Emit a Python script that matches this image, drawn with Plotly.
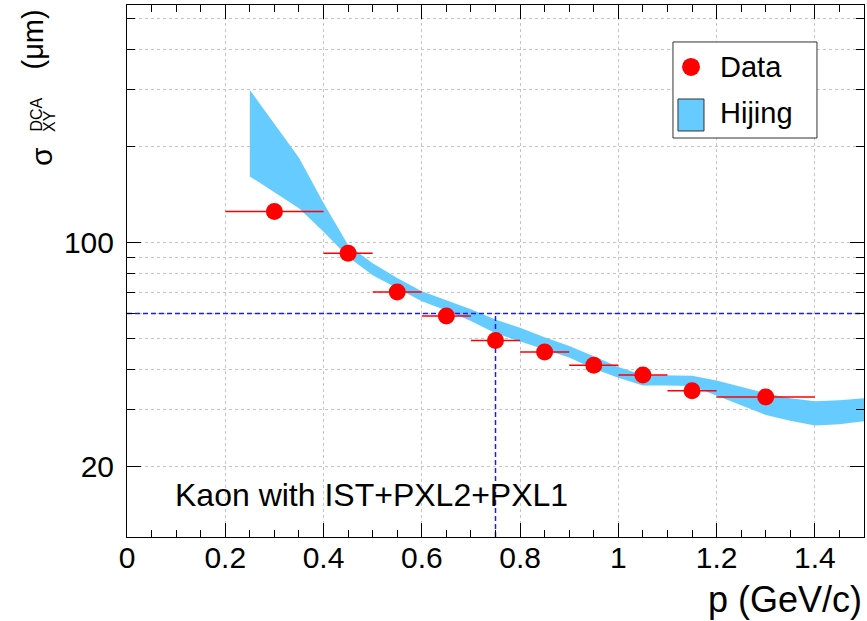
import math

import plotly.graph_objects as go

# Data points (momentum bin centre, half width, DCA resolution in um)
p_data = [0.3, 0.45, 0.55, 0.65, 0.75, 0.85, 0.95, 1.05, 1.15, 1.3]
p_halfwidth = [0.1, 0.05, 0.05, 0.05, 0.05, 0.05, 0.05, 0.05, 0.05, 0.1]
sigma_data = [125.0, 92.6, 70.0, 58.9, 49.4, 45.5, 41.3, 38.5, 34.4, 32.9]

# Hijing band (lower / upper edge)
p_band = [0.25, 0.30, 0.35, 0.40, 0.45, 0.50, 0.55, 0.60, 0.65, 0.70, 0.75,
          0.80, 0.85, 0.90, 0.95, 1.00, 1.05, 1.10, 1.15, 1.20, 1.25, 1.30,
          1.35, 1.40, 1.45, 1.50]
band_low = [161, 144, 128, 108, 90.1, 79.0, 71.8, 65.5, 61.3, 56.8, 52.0,
            49.2, 46.3, 43.7, 40.3, 37.8, 35.7, 35.7, 35.6, 33.3, 31.0, 28.9,
            27.7, 26.8, 27.0, 27.6]
band_up = [300, 235, 184, 133, 98.2, 86.1, 77.5, 70.4, 66.1, 61.8, 57.5,
           54.1, 50.6, 47.5, 44.1, 40.8, 38.5, 38.4, 38.3, 37.0, 35.3, 33.8,
           32.6, 31.9, 32.1, 32.6]

# reference lines
ref_p = 0.75
ref_sigma = 60

# axes
x_range = [0, 1.5]
x_ticks = [0, 0.2, 0.4, 0.6, 0.8, 1.0, 1.2, 1.4]
x_ticktext = ["0", "0.2", "0.4", "0.6", "0.8", "1", "1.2", "1.4"]
y_min, y_max = 12.0, 553.0
y_major = [20, 100]
y_major_text = ["20", "100"]
y_minor = [30, 40, 50, 60, 70, 80, 90, 200, 300, 400, 500]

legend_labels = ["Data", "Hijing"]

FONT = "Liberation Sans"
RED = "#ff0000"
BAND = "#66ccff"
GRID = "#c4c4c4"
BLUE = "#1a1aff"

fig = go.Figure()

# Hijing band as a closed polygon
fig.add_trace(
    go.Scatter(
        x=p_band + p_band[::-1],
        y=band_up + band_low[::-1],
        fill="toself",
        fillcolor=BAND,
        mode="lines",
        line=dict(width=0, color=BAND),
        name=legend_labels[1],
        showlegend=False,
        hoverinfo="skip",
    )
)

# dashed reference lines
fig.add_trace(
    go.Scatter(
        x=x_range,
        y=[ref_sigma, ref_sigma],
        mode="lines",
        line=dict(color=BLUE, width=1.5, dash="5px,3px"),
        showlegend=False,
    )
)
fig.add_trace(
    go.Scatter(
        x=[ref_p, ref_p],
        y=[y_min, ref_sigma],
        mode="lines",
        line=dict(color=BLUE, width=1.5, dash="5px,3px"),
        showlegend=False,
    )
)

# Data points
fig.add_trace(
    go.Scatter(
        x=p_data,
        y=sigma_data,
        mode="markers",
        marker=dict(color=RED, size=17, symbol="circle"),
        error_x=dict(type="data", array=p_halfwidth, color=RED, thickness=1.5, width=0),
        name=legend_labels[0],
        showlegend=False,
    )
)

axis_common = dict(
    showline=True,
    linecolor="black",
    linewidth=1,
    mirror="ticks",
    ticks="inside",
    tickcolor="black",
    showgrid=True,
    gridcolor=GRID,
    griddash="dot",
    gridwidth=1,
    zeroline=False,
    tickfont=dict(family=FONT, size=30, color="black"),
)


def paper_text(text, x, y, size, angle=0, xanchor="center"):
    return dict(
        text=text, textangle=angle,
        xref="paper", yref="paper",
        x=x, y=y, xanchor=xanchor, yanchor="middle",
        showarrow=False,
        font=dict(family=FONT, size=size, color="black"),
    )


# Legend box drawn by hand (ROOT style: large key boxes)
legend_shapes = [
    dict(type="rect", xref="paper", yref="paper",
         x0=0.7408, x1=0.9362, y0=0.750, y1=0.9305,
         line=dict(color="#333333", width=1), fillcolor="white", layer="above"),
    dict(type="circle", xref="paper", yref="paper",
         x0=0.7653 - 0.0122, x1=0.7653 + 0.0122, y0=0.8835 - 0.0169, y1=0.8835 + 0.0169,
         line=dict(width=0), fillcolor=RED, layer="above"),
    dict(type="rect", xref="paper", yref="paper",
         x0=0.7476, x1=0.7829, y0=0.7632, y1=0.8233,
         line=dict(color="#333333", width=1), fillcolor=BAND, layer="above"),
]

annotations = [
    paper_text("Kaon with IST+PXL2+PXL1", 0.062, 0.079, 32, xanchor="left"),
    paper_text("p (GeV/c)", 1.0, -0.118, 36, xanchor="right"),
    paper_text(legend_labels[0], 0.8019, 0.8835, 29, xanchor="left"),
    paper_text(legend_labels[1], 0.8019, 0.797, 29, xanchor="left"),
    # y-axis title pieces: sigma, DCA over XY, (um)
    paper_text("σ", (41 - 127) / 737, (537 - 157) / 532, 30, angle=-90),
    paper_text("DCA", (36.5 - 127) / 737, (537 - 115) / 532, 16, angle=-90),
    paper_text("XY", (49 - 127) / 737, (537 - 121) / 532, 16, angle=-90),
    paper_text("(μm)", (32.5 - 127) / 737, (537 - 40) / 532, 29, angle=-90),
]

fig.update_layout(
    width=867,
    height=621,
    margin=dict(l=127, r=3, t=5, b=84),
    paper_bgcolor="white",
    plot_bgcolor="white",
    font=dict(family=FONT, color="black"),
    showlegend=False,
    xaxis=dict(
        **axis_common,
        range=x_range,
        tickmode="array",
        tickvals=x_ticks,
        ticktext=x_ticktext,
        ticklen=14,
        ticklabelstandoff=-6,
        minor=dict(dtick=0.05, ticklen=7, ticks="inside", tickcolor="black", showgrid=False),
    ),
    yaxis=dict(
        **axis_common,
        type="log",
        range=[math.log10(y_min), math.log10(y_max)],
        tickmode="array",
        tickvals=y_major,
        ticktext=y_major_text,
        ticklen=14,
        ticklabelstandoff=6,
        minor=dict(
            tickmode="array",
            tickvals=y_minor,
            ticklen=8,
            ticks="inside",
            tickcolor="black",
            showgrid=True,
            gridcolor=GRID,
            griddash="dot",
        ),
    ),
    shapes=legend_shapes,
    annotations=annotations,
)

# Remove the default body margin so the figure sits at the window origin.
fig.write_html(
    "out.html",
    config={"displayModeBar": False},
    post_script="document.body.style.margin='0px';",
)
